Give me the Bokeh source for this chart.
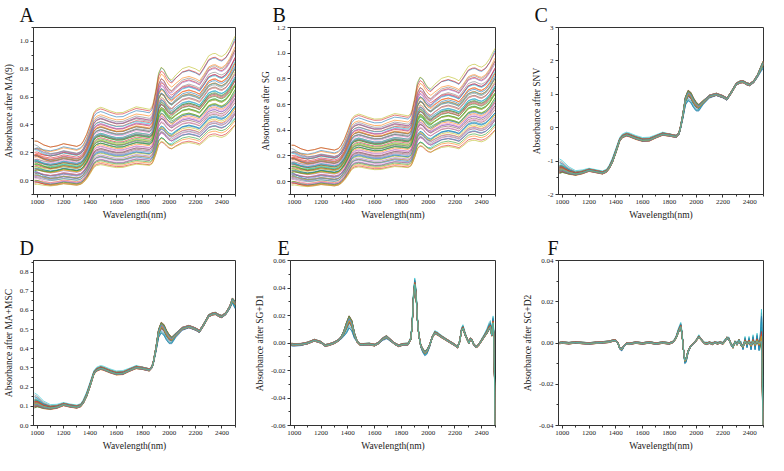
from bokeh.plotting import figure
from bokeh.layouts import gridplot
from bokeh.models import FixedTicker, NumeralTickFormatter, Title, Range1d
from bokeh.embed import file_html
from bokeh.resources import INLINE

# ---------------- data ----------------
WL = [980, 1000, 1050, 1100, 1150, 1200, 1250, 1300, 1330, 1350,
      1375, 1400, 1430, 1450, 1480, 1500, 1550, 1600, 1650, 1700,
      1750, 1800, 1850, 1870, 1880, 1900, 1920, 1940, 1960, 1980,
      2000, 2020, 2050, 2100, 2150, 2200, 2230, 2260, 2300, 2330,
      2350, 2380, 2400, 2430, 2460, 2480, 2500]

# SNV-normalised mean spectrum (panel C) and its sample-to-sample spread
SNV_MEAN = [-1.25, -1.24, -1.33, -1.38, -1.34, -1.27, -1.31, -1.35, -1.30, -1.20,
            -1.00, -0.72, -0.36, -0.26, -0.21, -0.23, -0.31, -0.37, -0.36, -0.27,
            -0.19, -0.22, -0.26, -0.18, -0.05, 0.35, 0.84, 1.02, 0.96, 0.80,
            0.68, 0.63, 0.76, 0.94, 1.00, 0.93, 0.86, 1.04, 1.31, 1.37,
            1.38, 1.31, 1.29, 1.38, 1.57, 1.75, 1.92]
SNV_DEV = [0.14, 0.11, 0.06, 0.03, 0.02, 0.01, 0.01, 0.01, 0.01, 0.02,
           0.03, 0.03, 0.02, 0.02, 0.02, 0.02, 0.02, 0.02, 0.02, 0.01,
           0.01, 0.00, 0.00, -0.01, -0.02, -0.05, -0.09, -0.12, -0.12, -0.11,
           -0.10, -0.07, -0.04, -0.02, -0.01, -0.01, -0.01, 0.00, 0.00, 0.00,
           0.00, 0.00, 0.00, -0.01, -0.02, -0.05, -0.08]
SNV_BAND = 0.035

# MSC mean spectrum (panel D)
MSC_MEAN = [0.113, 0.115, 0.099, 0.092, 0.097, 0.110, 0.102, 0.097, 0.104, 0.122,
            0.158, 0.208, 0.273, 0.290, 0.299, 0.296, 0.282, 0.271, 0.273, 0.289,
            0.303, 0.298, 0.290, 0.305, 0.328, 0.400, 0.487, 0.520, 0.509, 0.480,
            0.459, 0.450, 0.473, 0.505, 0.516, 0.503, 0.491, 0.523, 0.572, 0.582,
            0.584, 0.572, 0.568, 0.584, 0.618, 0.655, 0.635]
MSC_SCALE = 0.179

# per-sample level (mean) and gain (std) of the raw spectra (panels A, B)
SAMPLE_MEAN = [0.42, 0.21, 0.35, 0.50, 0.28, 0.18, 0.46, 0.31, 0.39, 0.24,
               0.55, 0.16, 0.33, 0.44, 0.27, 0.37, 0.20, 0.48, 0.30, 0.41,
               0.23, 0.53, 0.36, 0.15, 0.45, 0.26, 0.38, 0.32, 0.58, 0.19,
               0.43, 0.29, 0.34, 0.47, 0.22, 0.40, 0.25, 0.51, 0.14, 0.37,
               0.30, 0.44, 0.17, 0.35, 0.49, 0.27, 0.39, 0.21, 0.33, 0.46,
               0.24, 0.42, 0.31, 0.56, 0.19, 0.36, 0.28, 0.41, 0.23, 0.38]
SAMPLE_STD = [0.200, 0.160, 0.180, 0.230, 0.165, 0.150, 0.220, 0.170, 0.205, 0.155,
              0.240, 0.140, 0.190, 0.205, 0.175, 0.185, 0.155, 0.215, 0.180, 0.210,
              0.160, 0.225, 0.195, 0.135, 0.220, 0.160, 0.190, 0.185, 0.245, 0.145,
              0.210, 0.170, 0.180, 0.210, 0.150, 0.195, 0.170, 0.230, 0.130, 0.200,
              0.170, 0.215, 0.145, 0.190, 0.225, 0.165, 0.195, 0.150, 0.180, 0.210,
              0.165, 0.200, 0.175, 0.235, 0.150, 0.185, 0.175, 0.200, 0.155, 0.190]
# per-sample shape deviation and band position
SAMPLE_K = [0.2, -0.5, 0.6, -0.1, 0.3, -0.7, 0.0, 1.8, -0.3, 0.5,
            -0.6, 0.1, 0.4, -0.2, -0.8, -0.4, 0.7, 1.5, 0.2, -0.1,
            0.3, -0.5, 0.0, 0.6, -0.3, 0.1, -0.2, -0.6, 0.4, 2.0,
            0.5, -0.4, 0.2, -0.7, 0.0, 0.8, -0.1, 0.3, -0.5, 1.2,
            -0.3, 0.1, 0.6, -0.2, 0.4, -0.6, 0.0, 0.2, -0.4, 0.7,
            1.6, 0.3, -0.8, 0.5, -0.3, 0.1, -0.1, -0.5, 0.2, -0.2]
SAMPLE_J = [0.5, -0.3, 0.9, -0.8, 0.1, 0.6, -0.5, 0.3, -0.9, 0.7,
            -0.1, 0.4, -0.6, 0.8, -0.2, 0.0, -0.7, 0.2, 0.9, -0.4,
            0.6, -1.0, 0.3, -0.2, 0.7, -0.8, 0.1, 0.5, -0.5, 1.0,
            -0.3, 0.8, -0.6, 0.2, -0.9, 0.4, 0.0, -0.4, 0.6, -0.1,
            0.9, -0.7, 0.3, -0.2, 0.5, -0.5, 0.8, -0.9, 0.1, 0.4,
            -0.6, 0.7, -0.3, 0.2, -0.8, 0.6, -0.1, 0.3, -0.4, 0.0]

# first derivative (panel E)
D1_WL = [980, 1000, 1050, 1100, 1150, 1200, 1230, 1260, 1300, 1330,
         1350, 1370, 1390, 1410, 1430, 1450, 1470, 1490, 1520, 1560,
         1600, 1630, 1660, 1690, 1720, 1750, 1780, 1810, 1850, 1870,
         1880, 1890, 1900, 1910, 1920, 1930, 1945, 1960, 1975, 1990,
         2010, 2030, 2050, 2070, 2100, 2150, 2200, 2220, 2235, 2250,
         2260, 2275, 2290, 2305, 2315, 2325, 2340, 2360, 2380, 2400,
         2420, 2440, 2455, 2465, 2475, 2485, 2490, 2495, 2500]
D1_MEAN = [-0.0010, -0.0012, -0.0010, 0.0000, 0.0020, 0.0005, -0.0018, -0.0012, 0.0002, 0.0020,
           0.0040, 0.0075, 0.0125, 0.0170, 0.0140, 0.0060, 0.0010, -0.0010, -0.0010, -0.0008,
           -0.0015, 0.0000, 0.0030, 0.0045, 0.0020, -0.0005, -0.0020, -0.0010, -0.0008, 0.0030,
           0.0120, 0.0320, 0.0430, 0.0350, 0.0170, 0.0060, -0.0020, -0.0050, -0.0070, -0.0060,
           -0.0020, 0.0040, 0.0075, 0.0065, 0.0045, 0.0015, -0.0015, -0.0030, 0.0010, 0.0095,
           0.0110, 0.0065, 0.0030, 0.0000, 0.0030, 0.0025, -0.0010, -0.0030, -0.0010, 0.0020,
           0.0050, 0.0080, 0.0110, 0.0120, 0.0060, 0.0150, 0.0050, -0.0200, -0.0600]
D1_DEV = [-0.0006, -0.0005, -0.0003, 0, 0, 0, 0, 0, 0, 0,
          -0.0005, -0.0015, -0.0030, -0.0035, -0.0030, -0.0015, 0, 0, 0, 0,
          0, 0, -0.0005, -0.0007, -0.0003, 0, 0, 0, 0, 0.0003,
          0.0008, 0.0015, 0.0018, 0.0015, 0.0008, 0, -0.0005, -0.0010, -0.0012, -0.0012,
          -0.0006, 0, 0.0004, 0.0004, 0.0002, 0, 0, 0, 0, 0.0006,
          0.0008, 0.0005, 0, 0, 0, 0, 0, 0, 0, 0.0003,
          0.0005, 0.0010, 0.0015, 0.0018, 0.0010, 0.0020, 0.0015, 0.0030, 0]
D1_BAND = 0.0007

# second derivative (panel F)
D2_WL = [980, 1000, 1050, 1100, 1150, 1200, 1250, 1300, 1350, 1380,
         1400, 1415, 1430, 1445, 1460, 1480, 1500, 1550, 1600, 1650,
         1700, 1750, 1800, 1830, 1850, 1870, 1885, 1895, 1905, 1915,
         1925, 1940, 1960, 1980, 2000, 2020, 2040, 2060, 2080, 2100,
         2120, 2140, 2160, 2180, 2200, 2215, 2230, 2245, 2260, 2275,
         2290, 2305, 2320, 2335, 2350, 2365, 2380, 2395, 2410, 2425,
         2440, 2455, 2470, 2480, 2488, 2493, 2497, 2500]
D2_MEAN = [0.0000, 0.0002, -0.0001, 0.0003, 0.0000, -0.0002, 0.0001, 0.0003, 0.0006, 0.0012,
           0.0012, 0.0000, -0.0025, -0.0030, -0.0015, -0.0003, -0.0004, 0.0002, -0.0002, 0.0003,
           -0.0003, 0.0002, -0.0002, 0.0006, 0.0025, 0.0060, 0.0080, 0.0040, -0.0030, -0.0085,
           -0.0080, -0.0040, -0.0015, -0.0002, 0.0012, 0.0030, 0.0015, 0.0000, -0.0003, 0.0002,
           -0.0004, 0.0003, -0.0002, 0.0003, -0.0003, 0.0010, 0.0025, 0.0018, -0.0005, -0.0020,
           0.0005, -0.0005, 0.0012, -0.0008, -0.0018, 0.0010, -0.0005, 0.0008, -0.0012, 0.0010,
           -0.0008, 0.0012, -0.0005, 0.0010, 0.0020, -0.0100, -0.0300, -0.0400]
D2_DEV = [0, 0, 0, 0, 0, 0, 0, 0, 0, 0,
          0, 0, -0.0003, -0.0004, -0.0002, 0, 0, 0, 0, 0,
          0, 0, 0, 0, 0.0003, 0.0006, 0.0008, 0.0005, 0, -0.0008,
          -0.0008, -0.0004, 0, 0, 0, 0.0003, 0, 0, 0.0002, -0.0002,
          0.0002, -0.0002, 0.0002, -0.0002, 0.0002, 0.0003, -0.0004, 0.0004, -0.0004, 0.0005,
          -0.0005, 0.0006, -0.0006, 0.0007, -0.0008, 0.0009, -0.0010, 0.0010, -0.0012, 0.0013,
          -0.0014, 0.0016, -0.0018, 0.0020, 0.0070, 0.0100, 0.0060, 0]
D2_BAND = 0.0004

X_TICKS = [1000, 1200, 1400, 1600, 1800, 2000, 2200, 2400]
X_MINOR = [1100, 1300, 1500, 1700, 1900, 2100, 2300, 2500]
X_LABEL = "Wavelength(nm)"

PANELS = {
    "A": dict(ylabel="Absorbance after MA(9)", yr=(-0.1, 1.1),
              ticks=[0.0, 0.2, 0.4, 0.6, 0.8, 1.0], minor=[-0.1, 0.1, 0.3, 0.5, 0.7, 0.9, 1.1], fmt="0.0"),
    "B": dict(ylabel="Absorbance after SG", yr=(-0.1, 1.2),
              ticks=[0.0, 0.2, 0.4, 0.6, 0.8, 1.0, 1.2], minor=[-0.1, 0.1, 0.3, 0.5, 0.7, 0.9, 1.1], fmt="0.0"),
    "C": dict(ylabel="Absorbance after SNV", yr=(-2, 3),
              ticks=[-2, -1, 0, 1, 2, 3], minor=[-1.5, -0.5, 0.5, 1.5, 2.5], fmt="0"),
    "D": dict(ylabel="Absorbance after MA+MSC", yr=(0.0, 0.86),
              ticks=[0.0, 0.1, 0.2, 0.3, 0.4, 0.5, 0.6, 0.7, 0.8], minor=[0.05, 0.15, 0.25, 0.35, 0.45, 0.55, 0.65, 0.75, 0.85], fmt="0.0"),
    "E": dict(ylabel="Absorbance after SG+D1", yr=(-0.06, 0.06),
              ticks=[-0.06, -0.04, -0.02, 0.0, 0.02, 0.04, 0.06], minor=[-0.05, -0.03, -0.01, 0.01, 0.03, 0.05], fmt="0.00"),
    "F": dict(ylabel="Absorbance after SG+D2", yr=(-0.04, 0.04),
              ticks=[-0.04, -0.02, 0.0, 0.02, 0.04], minor=[-0.03, -0.01, 0.01, 0.03], fmt="0.00"),
}

COLORS = ["#1f77b4", "#ff7f0e", "#2ca02c", "#d62728", "#9467bd",
          "#8c564b", "#e377c2", "#7f7f7f", "#bcbd22", "#17becf"]

# ---------------- build spectra ----------------
N = len(SAMPLE_MEAN)
snv, raw, msc, d1, d2 = [], [], [], [], []
for i in range(N):
    k, j = SAMPLE_K[i], SAMPLE_J[i]
    shape = [SNV_MEAN[t] + k * SNV_DEV[t] + j * SNV_BAND for t in range(len(WL))]
    snv.append(shape)
    raw.append([SAMPLE_MEAN[i] + SAMPLE_STD[i] * v for v in shape])
    msc.append([MSC_MEAN[t] + MSC_SCALE * (k * SNV_DEV[t] + j * SNV_BAND) for t in range(len(WL))])
    d1.append([D1_MEAN[t] + k * D1_DEV[t] + j * D1_BAND for t in range(len(D1_WL))])
    d2.append([D2_MEAN[t] + k * D2_DEV[t] + j * D2_BAND for t in range(len(D2_WL))])

DATA = {"A": (WL, raw), "B": (WL, raw), "C": (WL, snv), "D": (WL, msc),
        "E": (D1_WL, d1), "F": (D2_WL, d2)}

FONT = "Liberation Serif"
INK = "#333333"

# layout: (width, height, left, right, top, bottom, letter offset)
GEOM = {
    "A": (240, 228, 30, 5, 26, 34, -14),
    "B": (261, 228, 50, 6, 26, 34, -18),
    "C": (267, 228, 57, 5, 26, 34, -24),
    "D": (240, 225, 30, 5, 32, 25, -14),
    "E": (261, 225, 50, 6, 32, 25, -13),
    "F": (267, 225, 57, 5, 32, 25, -11),
}


def make(letter):
    cfg = PANELS[letter]
    w, h, bl, br, bt, bb, off = GEOM[letter]
    xs_base, ys = DATA[letter]
    p = figure(width=w, height=h, output_backend="svg", toolbar_location=None,
               x_range=Range1d(972, 2503), y_range=Range1d(*cfg["yr"]))
    p.min_border_left = bl
    p.min_border_right = br
    p.min_border_top = bt
    p.min_border_bottom = bb
    p.grid.visible = False
    p.outline_line_color = INK
    p.outline_line_width = 1
    p.background_fill_color = "white"
    p.border_fill_color = "white"

    cols = [COLORS[i % len(COLORS)] for i in range(len(ys))]
    p.multi_line(xs=[xs_base] * len(ys), ys=ys, line_color=cols, line_width=0.8, line_alpha=0.75)

    p.xaxis.ticker = FixedTicker(ticks=X_TICKS, minor_ticks=X_MINOR)
    p.yaxis.ticker = FixedTicker(ticks=cfg["ticks"], minor_ticks=cfg["minor"])
    p.yaxis.formatter = NumeralTickFormatter(format=cfg["fmt"])
    p.xaxis.axis_label = X_LABEL
    p.yaxis.axis_label = cfg["ylabel"]
    for ax in (p.xaxis, p.yaxis):
        ax.axis_line_color = INK
        ax.major_tick_line_color = INK
        ax.minor_tick_line_color = INK
        ax.major_tick_out = 3
        ax.major_tick_in = 0
        ax.minor_tick_out = 2
        ax.minor_tick_in = 0
        ax.major_label_text_font = FONT
        ax.major_label_text_font_size = "7px"
        ax.major_label_text_color = "#222222"
        ax.major_label_standoff = 2
        ax.axis_label_text_font = FONT
        ax.axis_label_text_font_style = "normal"
        ax.axis_label_text_font_size = "9.5px"
        ax.axis_label_text_color = "#222222"
        ax.axis_label_standoff = 3
    p.add_layout(Title(text=letter, align="left", offset=off, standoff=3,
                       text_font=FONT, text_font_size="20px", text_font_style="normal",
                       text_color="#111111"), "above")
    return p


grid = gridplot([[make("A"), make("B"), make("C")],
                 [make("D"), make("E"), make("F")]],
                toolbar_location=None, merge_tools=False)

open("out.html", "w").write(file_html(grid, INLINE))
